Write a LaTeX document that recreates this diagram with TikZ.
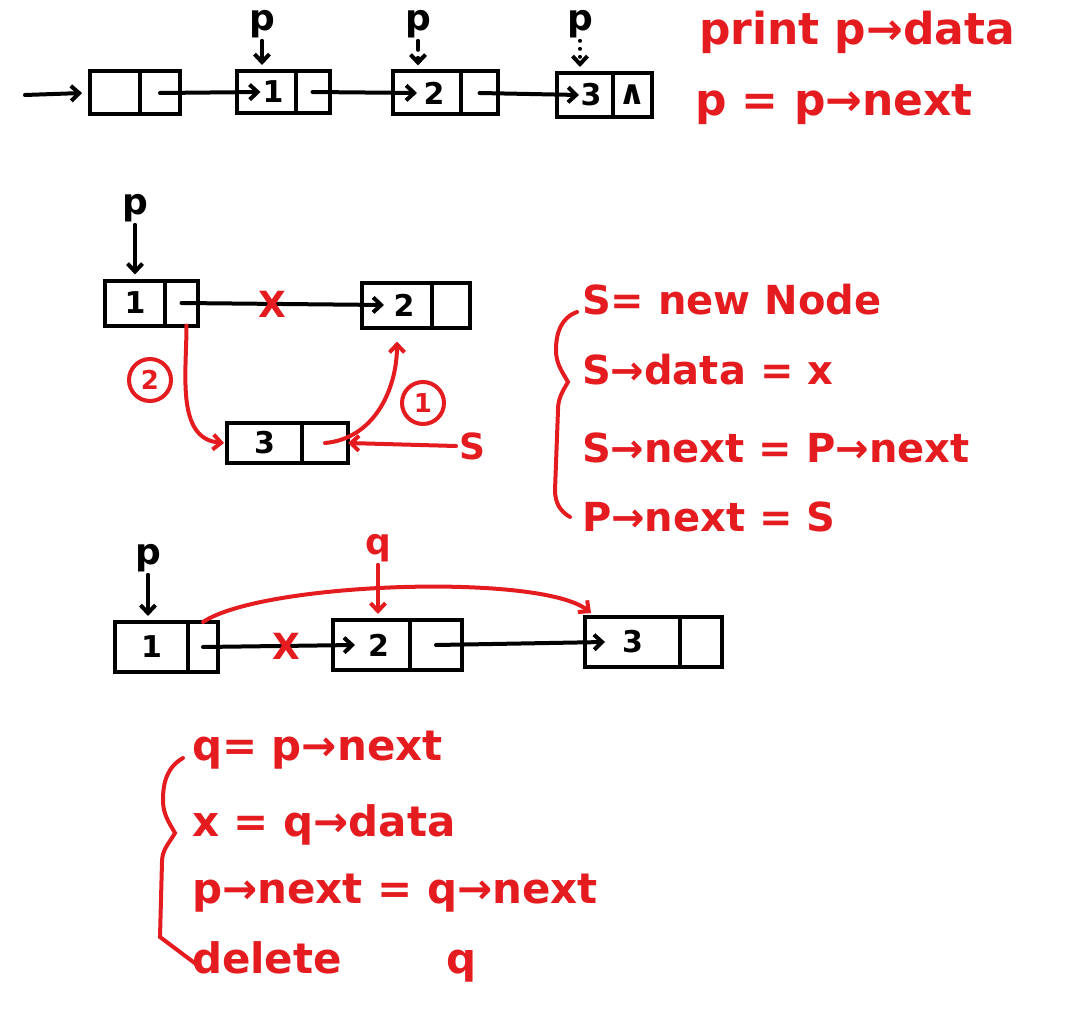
\documentclass[tikz,border=0pt]{standalone}
\usepackage{fontspec}
\setmainfont{DejaVu Sans}
\usetikzlibrary{arrows.meta,positioning}
\definecolor{inkred}{RGB}{228,28,32}

\begin{document}
\begin{tikzpicture}[x=1pt,y=-1pt,line width=4pt,line cap=round,
        >={Straight Barb[length=8pt,width=15pt]},
        fld/.style={rectangle,draw,inner sep=0pt,outer sep=0pt,font=\fontsize{30}{30}\selectfont\bfseries},
        lbl/.style={inner sep=1pt,font=\fontsize{36}{36}\selectfont\bfseries},
        cross/.style={inner sep=0pt,text=inkred,font=\fontsize{36}{36}\selectfont\bfseries},
        num/.style={circle,draw=inkred,text=inkred,minimum size=42pt,inner sep=0pt,font=\fontsize{26}{26}\selectfont\bfseries},
        note/.style={anchor=west,inner sep=0pt,text=inkred,font=\fontsize{40}{40}\selectfont\bfseries},
        hop/.style={shorten >=6pt}]

        \useasboundingbox (0,0) rectangle (1081,1035);

        \node[fld,minimum width=50,minimum height=43] (hd) at (115,93) {};
        \node[fld,minimum width=40,minimum height=43,right=0pt of hd] (hp) {};
        \node[fld,minimum width=59,minimum height=42] (n1d) at (266,92) {\hspace*{14pt}1};
        \node[fld,minimum width=34,minimum height=42,right=0pt of n1d] (n1p) {};
        \node[fld,minimum width=68,minimum height=43] (n2d) at (427,93) {\hspace*{14pt}2};
        \node[fld,minimum width=37,minimum height=43,right=0pt of n2d] (n2p) {};
        \node[fld,minimum width=56,minimum height=44] (n3d) at (585,95) {\hspace*{12pt}3};
        \node[fld,minimum width=39,minimum height=44,right=0pt of n3d] (n3p) {\fontsize{34}{34}\selectfont ∧};

        \coordinate (start) at (25,95);
        \draw[->] (start) -- ([xshift=-8pt]hd.west);
        \draw[->] (hp.center) -- ([xshift=24pt]n1d.west);
        \draw[->] (n1p.center) -- ([xshift=24pt]n2d.west);
        \draw[->] (n2p.center) -- ([xshift=22pt]n3d.west);

        \node[lbl] (p1) at (262,24) {p};
        \node[lbl] (p2) at (418,24) {p};
        \node[lbl] (p3) at (580,24) {p};
        \draw[->,hop] (p1) -- (p1 |- n1d.north);
        \draw[->,hop,dash pattern=on 9pt off 8pt] (p2) -- (p2 |- n2d.north);
        \draw[->,hop,dash pattern=on 0pt off 8pt] (p3) -- (p3 |- n3d.north);

        \node[note,font=\fontsize{44}{44}\selectfont\bfseries] (t1) at (697,32) {print p→data};
        \node[note,font=\fontsize{44}{44}\selectfont\bfseries] (t2) at (693,105) {p = p→next};


        \node[fld,minimum width=60,minimum height=45] (ad) at (135,303) {1};
        \node[fld,minimum width=33,minimum height=45,right=0pt of ad] (ap) {};
        \node[fld,minimum width=70,minimum height=45] (bd) at (397,305) {\hspace*{14pt}2};
        \node[fld,minimum width=38,minimum height=45,right=0pt of bd] (bp) {};
        \node[fld,minimum width=75,minimum height=40] (cd) at (264.5,443) {3};
        \node[fld,minimum width=46,minimum height=40,right=0pt of cd] (cp) {};

        \node[lbl] (p4) at (135,208) {p};
        \draw[->,hop] (p4) -- (p4 |- ad.north);
        \draw[->] (ap.center) -- node[cross,pos=.45] {X} ([xshift=22pt]bd.west);

        \draw[->,inkred] ([xshift=5pt]ap.south) to[out=-90,in=175] ([xshift=-3pt]cd.west);
        \node[num] (c2) at (150,380) {2};
        \draw[->,inkred] (cp.center) to[out=5,in=-90] ([yshift=-14pt]bd.south);
        \node[num] (c1) at (423,403) {1};
        \node[lbl,text=inkred] (s1) at (472,446) {S};
        \draw[->,inkred] (s1.west) -- (cp.east);

        \draw[inkred] (577,312) to[out=200,in=90] (556,350) to[out=-90,in=120] (568,382)
            to[out=240,in=90] (558,410) -- (555,490) to[out=-90,in=150] (570,517);
        \node[note] (u1) at (580,300) {S= new Node};
        \node[note] (u2) at (580,370) {S→data = x};
        \node[note] (u3) at (580,448) {S→next = P→next};
        \node[note] (u4) at (580,517) {P→next = S};


        \node[fld,minimum width=73,minimum height=50] (dd) at (151.5,647) {1};
        \node[fld,minimum width=30,minimum height=50,right=0pt of dd] (dp) {};
        \node[fld,minimum width=77,minimum height=50] (ed) at (371.5,645) {\hspace*{14pt}2};
        \node[fld,minimum width=52,minimum height=50,right=0pt of ed] (ep) {};
        \node[fld,minimum width=95,minimum height=50] (fd) at (632.5,642) {3};
        \node[fld,minimum width=42,minimum height=50,right=0pt of fd] (fp) {};

        \node[lbl] (p5) at (148,558) {p};
        \draw[->,hop] (p5) -- (p5 |- dd.north);
        \node[lbl,text=inkred] (q1) at (378,548) {q};
        \draw[->,hop,inkred] (q1) -- (q1 |- ed.north);
        \draw[->] (dp.center) -- node[cross,pos=.55] {X} ([xshift=22pt]ed.west);
        \draw[->] (ep.center) -- ([xshift=20pt]fd.west);
        \draw[->,inkred] (dp.north) .. controls +(60,-40) and +(-50,-40) .. ([xshift=6pt,yshift=4pt]fd.north west);

        \draw[inkred] (183,758) to[out=210,in=90] (163,800) to[out=-90,in=120] (175,833)
            to[out=240,in=90] (162,862) -- (160,937) -- (200,967);
        \node[note,font=\fontsize{42}{42}\selectfont\bfseries] (v1) at (190,750) {q= p→next};
        \node[note,font=\fontsize{42}{42}\selectfont\bfseries] (v2) at (190,825) {x = q→data};
        \node[note,font=\fontsize{42}{42}\selectfont\bfseries] (v3) at (190,893) {p→next = q→next};
        \node[note,font=\fontsize{42}{42}\selectfont\bfseries] (v4) at (190,962) {delete\hspace*{105pt}q};
\end{tikzpicture}
\end{document}
